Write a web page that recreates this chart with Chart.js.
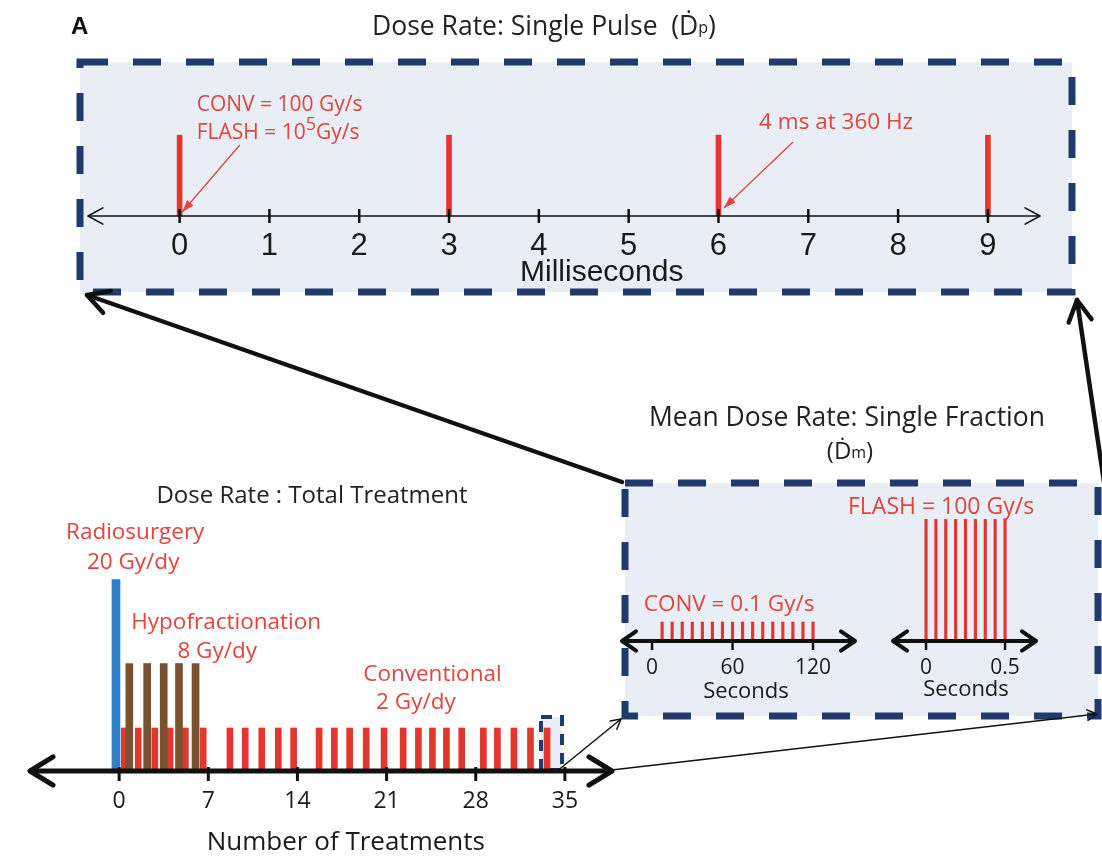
<!DOCTYPE html>
<html>
<head>
<meta charset="utf-8">
<script src="https://cdn.jsdelivr.net/npm/chart.js@4.4.1/dist/chart.umd.min.js"></script>
<style>
  body { margin: 0; background: #fff; width: 1102px; height: 856px; position: relative; overflow: hidden; }
  canvas { position: absolute; }
</style>
</head>
<body>
<canvas id="frame" width="1102" height="856" style="left:0;top:0"></canvas>
<canvas id="pulseChart" width="1102" height="300" style="left:0;top:0"></canvas>
<canvas id="treatChart" width="640" height="386" style="left:0;top:470px"></canvas>
<canvas id="convChart" width="258" height="220" style="left:612px;top:490px"></canvas>
<canvas id="flashChart" width="262" height="220" style="left:840px;top:490px"></canvas>
<script>
// Single pulse panel (milliseconds)
const pulseTicks = [0, 1, 2, 3, 4, 5, 6, 7, 8, 9];
const pulseTimes = [0, 3, 6, 9];
const pulseHeight = [1, 1, 1, 1];

// Total treatment panel (number of treatments) - schematic bar heights
const treatTicks = [0, 7, 14, 21, 28, 35];
const radioDays = [-0.25];
const radioHeight = [8.9];
const hypoDays = [0.8, 2.2, 3.5, 4.7, 6.0];
const hypoHeight = [5, 5, 5, 5, 5];
const convDays = [0.4, 1.5, 2.8, 4.0, 5.2, 6.6, 8.7, 9.9, 11.2, 12.5, 13.7, 15.7, 16.9, 18.1, 19.4, 20.8,
                  22.3, 23.5, 24.6, 25.7, 26.9, 28.6, 29.7, 31.0, 32.3, 33.6];
const convHeight = [2, 2, 2, 2, 2, 2, 2, 2, 2, 2, 2, 2, 2, 2, 2, 2, 2, 2, 2, 2, 2, 2, 2, 2, 2, 2];

// Single fraction panel (seconds)
const convSecTicks = [0, 60, 120];
const convSeconds = [7.5, 15, 22.5, 30, 37.5, 45, 52.5, 60, 67.5, 75, 82.5, 90, 97.5, 105, 112.5, 120];
const convSecHeight = [1, 1, 1, 1, 1, 1, 1, 1, 1, 1, 1, 1, 1, 1, 1, 1];
const flashSecTicks = [0, 0.5];
const flashSeconds = [0, 0.0625, 0.125, 0.1875, 0.25, 0.3125, 0.375, 0.4375, 0.5];
const flashSecHeight = [6.4, 6.4, 6.4, 6.4, 6.4, 6.4, 6.4, 6.4, 6.4];

const RED = '#e3362f';
const TEXT_RED = '#e2443e';
const BROWN = '#7b5230';
const BLUE = '#2f7fc8';
const NAVY = '#1f3b6c';
const PANEL = '#e9edf5';
const MYRIAD = "'Open Sans', 'Noto Sans', sans-serif";
const ARIAL = "'Liberation Sans', Arial, sans-serif";

function pts(xs, ys) {
    return xs.map((x, i) => ({ x: x, y: ys[i] }));
}

// draws text made of several pieces (for superscripts / small letters)
function drawRich(ctx, x, y, parts, family, align, color) {
    ctx.save();
    ctx.fillStyle = color;
    ctx.textBaseline = 'middle';
    ctx.textAlign = 'left';
    let w = 0;
    parts.forEach(p => {
        ctx.font = (p.weight || '') + ' ' + p.size + 'px ' + family;
        p.w = ctx.measureText(p.t).width;
        w += p.w;
    });
    let cx = align === 'center' ? x - w / 2 : (align === 'right' ? x - w : x);
    parts.forEach(p => {
        ctx.font = (p.weight || '') + ' ' + p.size + 'px ' + family;
        ctx.fillText(p.t, cx, y + (p.dy || 0));
        cx += p.w;
    });
    ctx.restore();
}

function openHead(ctx, x1, y1, x2, y2, len, ang) {
    const a = Math.atan2(y2 - y1, x2 - x1);
    ctx.beginPath();
    ctx.moveTo(x2 - len * Math.cos(a - ang), y2 - len * Math.sin(a - ang));
    ctx.lineTo(x2, y2);
    ctx.lineTo(x2 - len * Math.cos(a + ang), y2 - len * Math.sin(a + ang));
    ctx.stroke();
}

function filledHead(ctx, x1, y1, x2, y2, len, ang) {
    const a = Math.atan2(y2 - y1, x2 - x1);
    ctx.beginPath();
    ctx.moveTo(x2, y2);
    ctx.lineTo(x2 - len * Math.cos(a - ang), y2 - len * Math.sin(a - ang));
    ctx.lineTo(x2 - len * Math.cos(a + ang), y2 - len * Math.sin(a + ang));
    ctx.closePath();
    ctx.fill();
}

// axis line with arrowheads at both ends and ticks crossing it
function axisDeco(o) {
    return {
        id: 'axisDeco',
        afterDatasetsDraw(chart) {
            const { ctx, chartArea: a, scales: { x } } = chart;
            const y0 = a.bottom;
            ctx.save();
            ctx.strokeStyle = '#111';
            ctx.lineCap = 'round';
            ctx.lineJoin = 'round';
            ctx.lineWidth = o.width;
            ctx.beginPath();
            ctx.moveTo(a.left + 1, y0);
            ctx.lineTo(a.right - 1, y0);
            ctx.stroke();
            openHead(ctx, a.right, y0, a.left, y0, o.head, o.ang);
            openHead(ctx, a.left, y0, a.right, y0, o.head, o.ang);
            ctx.lineWidth = o.tickWidth;
            ctx.lineCap = 'butt';
            x.ticks.forEach(t => {
                const px = x.getPixelForValue(t.value);
                ctx.beginPath();
                ctx.moveTo(px, y0 - o.tickUp);
                ctx.lineTo(px, y0 + o.tickDown);
                ctx.stroke();
            });
            ctx.restore();
        }
    };
}

// annotation texts and arrows; x in data units, dy in px from the axis
function notes(items) {
    return {
        id: 'notes',
        afterDraw(chart) {
            const { ctx, chartArea: a, scales: { x } } = chart;
            items.forEach(it => {
                const px = x.getPixelForValue(it.x);
                const py = a.bottom + it.dy;
                if (it.parts) {
                    drawRich(ctx, px, py, it.parts, it.family || MYRIAD, it.align || 'center', it.color || TEXT_RED);
                }
                if (it.to) {
                    const tx = x.getPixelForValue(it.to[0]);
                    const ty = a.bottom + it.to[1];
                    ctx.save();
                    ctx.strokeStyle = TEXT_RED;
                    ctx.fillStyle = TEXT_RED;
                    ctx.lineWidth = 1.3;
                    ctx.beginPath();
                    ctx.moveTo(px, py);
                    ctx.lineTo(tx, ty);
                    ctx.stroke();
                    filledHead(ctx, px, py, tx, ty, 13, 0.33);
                    ctx.restore();
                }
            });
        }
    };
}

function makeOptions(c) {
    return {
        responsive: false,
        animation: false,
        events: [],
        layout: { padding: c.padding },
        plugins: { legend: { display: false }, tooltip: { enabled: false }, title: { display: false } },
        scales: {
            x: {
                type: 'linear',
                offset: false,
                min: c.xMin,
                max: c.xMax,
                grid: { display: false, drawTicks: false, offset: false },
                border: { display: false },
                afterBuildTicks: s => { s.ticks = c.ticks.map(v => ({ value: v })); },
                afterFit: s => { s.height = c.xHeight; },
                ticks: {
                    autoSkip: false,
                    maxRotation: 0,
                    padding: c.tickPad,
                    color: '#1a1a1a',
                    font: c.tickFont,
                    callback: v => String(v)
                }
            },
            y: { display: false, min: 0, max: c.yMax }
        }
    };
}

// ---- Single pulse ----
new Chart(document.getElementById('pulseChart'), {
    type: 'bar',
    data: {
        datasets: [{ data: pts(pulseTimes, pulseHeight), backgroundColor: RED, barThickness: 5, grouped: false }]
    },
    options: makeOptions({
        padding: { left: 88, right: 62, top: 119, bottom: 0 },
        xMin: -1.02, xMax: 9.58, ticks: pulseTicks, yMax: 1.2, xHeight: 84,
        tickPad: 12, tickFont: { family: ARIAL, size: 31 }
    }),
    plugins: [
        axisDeco({ width: 1.6, head: 17, ang: 0.5, tickUp: 7, tickDown: 7, tickWidth: 2.5 }),
        notes([
            { x: 0.19, dy: -111, align: 'left', parts: [{ t: 'CONV = 100 Gy/s', size: 21 }] },
            { x: 0.19, dy: -83, align: 'left', parts: [{ t: 'FLASH = 10', size: 21 }, { t: '5', size: 18, dy: -8 }, { t: 'Gy/s', size: 21 }] },
            { x: 0.67, dy: -71, to: [0.03, -4] },
            { x: 7.31, dy: -93, parts: [{ t: '4 ms at 360 Hz', size: 22.5 }] },
            { x: 6.83, dy: -74, to: [6.06, -8] },
            { x: 4.7, dy: 57, family: ARIAL, color: '#1a1a1a', parts: [{ t: 'Milliseconds', size: 30 }] }
        ])
    ]
});

// ---- Total treatment ----
new Chart(document.getElementById('treatChart'), {
    type: 'bar',
    data: {
        datasets: [
            { label: 'Hypofractionation', data: pts(hypoDays, hypoHeight), backgroundColor: BROWN, barThickness: 7, grouped: false },
            { label: 'Radiosurgery', data: pts(radioDays, radioHeight), backgroundColor: BLUE, barThickness: 8, grouped: false },
            { label: 'Conventional', data: pts(convDays, convHeight), backgroundColor: RED, barThickness: 6, grouped: false }
        ]
    },
    options: makeOptions({
        padding: { left: 30, right: 28, top: 43, bottom: 0 },
        xMin: -7, xMax: 38.7, ticks: treatTicks, yMax: 12, xHeight: 85,
        tickPad: 17, tickFont: { family: MYRIAD, size: 23 }
    }),
    plugins: [
        axisDeco({ width: 5, head: 27, ang: 0.55, tickUp: 4, tickDown: 10, tickWidth: 3 }),
        notes([
            { x: 1.26, dy: -238, parts: [{ t: 'Radiosurgery', size: 22.5 }] },
            { x: 1.1, dy: -208, parts: [{ t: '20 Gy/dy', size: 22.5 }] },
            { x: 8.4, dy: -148, parts: [{ t: 'Hypofractionation', size: 22.5 }] },
            { x: 7.7, dy: -119, parts: [{ t: '8 Gy/dy', size: 22.5 }] },
            { x: 24.6, dy: -96, parts: [{ t: 'Conventional', size: 22.5 }] },
            { x: 23.3, dy: -68, parts: [{ t: '2 Gy/dy', size: 22.5 }] },
            { x: 17.8, dy: 72, color: '#1a1a1a', parts: [{ t: 'Number of Treatments', size: 26 }] }
        ])
    ]
});

// ---- Single fraction: CONV ----
new Chart(document.getElementById('convChart'), {
    type: 'bar',
    data: {
        datasets: [{ data: pts(convSeconds, convSecHeight), backgroundColor: RED, barThickness: 2.5, grouped: false }]
    },
    options: makeOptions({
        padding: { left: 10, right: 15, top: 18, bottom: 0 },
        xMin: -22.4, xMax: 151.3, ticks: convSecTicks, yMax: 7, xHeight: 69,
        tickPad: 14, tickFont: { family: MYRIAD, size: 21 }
    }),
    plugins: [
        axisDeco({ width: 4, head: 17, ang: 0.6, tickUp: 0, tickDown: 9, tickWidth: 2.5 }),
        notes([
            { x: 57.4, dy: -36, parts: [{ t: 'CONV = 0.1 Gy/s', size: 22.5 }] },
            { x: 70, dy: 51, color: '#1a1a1a', parts: [{ t: 'Seconds', size: 22 }] }
        ])
    ]
});

// ---- Single fraction: FLASH ----
new Chart(document.getElementById('flashChart'), {
    type: 'bar',
    data: {
        datasets: [{ data: pts(flashSeconds, flashSecHeight), backgroundColor: RED, barThickness: 2.5, grouped: false }]
    },
    options: makeOptions({
        padding: { left: 53, right: 66, top: 18, bottom: 0 },
        xMin: -0.209, xMax: 0.696, ticks: flashSecTicks, yMax: 7, xHeight: 69,
        tickPad: 14, tickFont: { family: MYRIAD, size: 21 }
    }),
    plugins: [
        axisDeco({ width: 4, head: 17, ang: 0.6, tickUp: 0, tickDown: 9, tickWidth: 2.5 }),
        notes([
            { x: 0.095, dy: -134, parts: [{ t: 'FLASH = 100 Gy/s', size: 23 }] },
            { x: 0.253, dy: 49, color: '#1a1a1a', parts: [{ t: 'Seconds', size: 22 }] }
        ])
    ]
});

// ---- panels, connectors and titles ----
function dashedBox(ctx, x, y, w, h, lw, dash) {
    ctx.save();
    ctx.fillStyle = PANEL;
    ctx.fillRect(x, y, w, h);
    ctx.strokeStyle = NAVY;
    ctx.lineWidth = lw;
    ctx.setLineDash(dash);
    ctx.strokeRect(x, y, w, h);
    ctx.restore();
}

function connector(ctx, x1, y1, x2, y2, lw, head) {
    ctx.save();
    ctx.strokeStyle = '#111';
    ctx.lineWidth = lw;
    ctx.lineCap = 'round';
    ctx.lineJoin = 'round';
    ctx.beginPath();
    ctx.moveTo(x1, y1);
    ctx.lineTo(x2, y2);
    ctx.stroke();
    openHead(ctx, x1, y1, x2, y2, head, 0.5);
    ctx.restore();
}

const fctx = document.getElementById('frame').getContext('2d');
dashedBox(fctx, 80, 62, 992, 230, 7, [28, 25]);
dashedBox(fctx, 625, 483, 473, 233, 7, [28, 25]);
dashedBox(fctx, 541, 717, 21, 53, 4, [11, 8]);
connector(fctx, 622, 482, 87, 295, 4.5, 24);
connector(fctx, 1104, 482, 1077, 300, 4.5, 24);
connector(fctx, 556, 772, 621, 719, 1.5, 11);
connector(fctx, 603, 771, 1097, 714, 1.5, 11);

drawRich(fctx, 71, 27, [{ t: 'A', size: 24, weight: 'bold' }], ARIAL, 'left', '#111');
drawRich(fctx, 372, 27, [{ t: 'Dose Rate: Single Pulse  (Ḋ', size: 26.5 }, { t: 'p', size: 16, dy: 1 }, { t: ')', size: 26.5 }], MYRIAD, 'left', '#222');
drawRich(fctx, 847, 418, [{ t: 'Mean Dose Rate: Single Fraction', size: 26.5 }], MYRIAD, 'center', '#222');
drawRich(fctx, 850, 452, [{ t: '(Ḋ', size: 24 }, { t: 'm', size: 16, dy: 1 }, { t: ')', size: 24 }], MYRIAD, 'center', '#222');
drawRich(fctx, 312, 496, [{ t: 'Dose Rate : Total Treatment', size: 24 }], MYRIAD, 'center', '#222');
</script>
</body>
</html>
